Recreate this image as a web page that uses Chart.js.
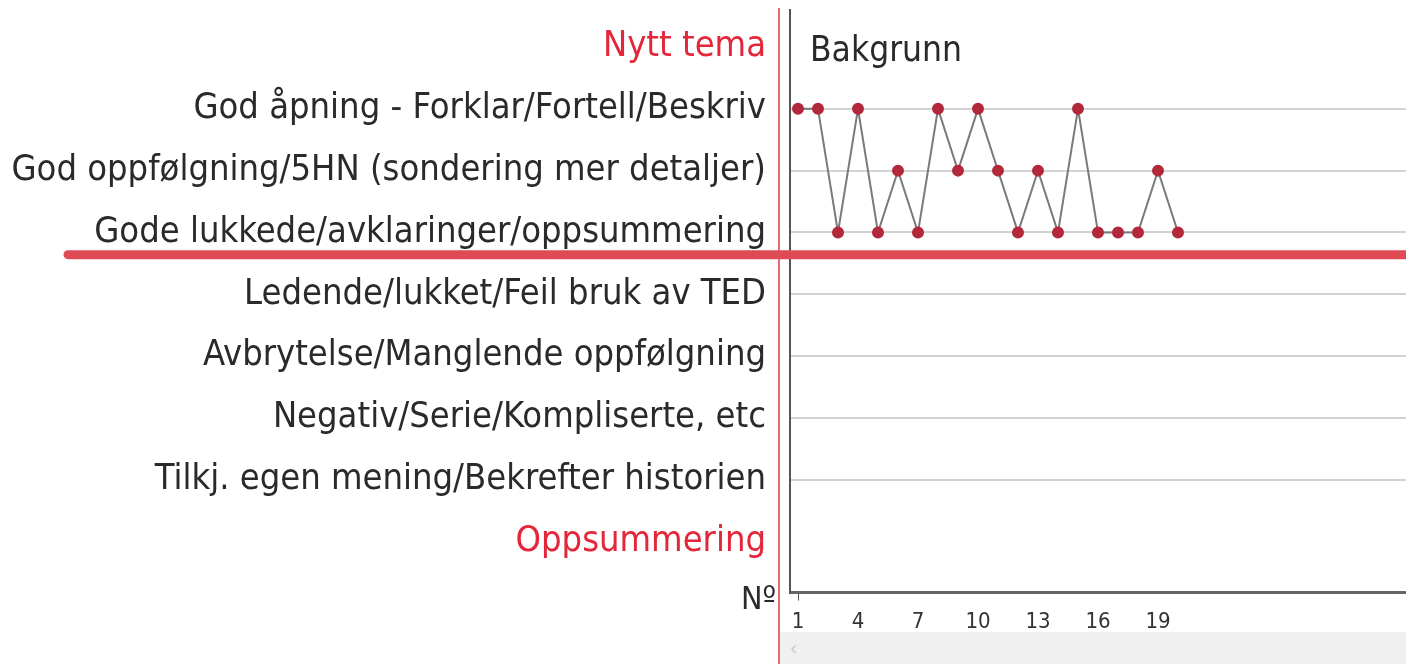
<!DOCTYPE html>
<html>
<head>
<meta charset="utf-8">
<script src="https://cdn.jsdelivr.net/npm/chart.js@4.4.0/dist/chart.umd.min.js"></script>
<style>
  html, body { margin: 0; padding: 0; background: #fff; overflow: hidden; }
  #wrap { position: relative; width: 1406px; height: 664px; }
</style>
</head>
<body>
<div id="wrap"><canvas id="chart"></canvas></div>
<script>
// rows of the scale, top to bottom
const rowLabels = [
  'Nytt tema',
  'God åpning - Forklar/Fortell/Beskriv',
  'God oppfølgning/5HN (sondering mer detaljer)',
  'Gode lukkede/avklaringer/oppsummering',
  'Ledende/lukket/Feil bruk av TED',
  'Avbrytelse/Manglende oppfølgning',
  'Negativ/Serie/Kompliserte, etc',
  'Tilkj. egen mening/Bekrefter historien',
  'Oppsummering'
];
// question number and which row it was scored in
const questionNo  = [1, 2, 3, 4, 5, 6, 7, 8, 9, 10, 11, 12, 13, 14, 15, 16, 17, 18, 19, 20];
const questionRow = [1, 1, 3, 1, 3, 2, 3, 1, 2, 1, 2, 3, 2, 3, 1, 3, 3, 3, 2, 3];
const xTickValues = [1, 4, 7, 10, 13, 16, 19];
const sectionTitle = 'Bakgrunn';
const xAxisTitle = 'Nº';

const RED = '#e3263a';
const DARK = '#2a2a2a';
const FONT = "'DejaVu Sans Condensed', 'Liberation Sans', sans-serif";

const points = questionNo.map((n, i) => ({ x: n, y: questionRow[i] }));

const decor = {
  id: 'decor',
  beforeDraw(chart) {
    const { ctx, chartArea, width, height } = chart;
    ctx.save();
    // scrollbar strip at the bottom
    ctx.fillStyle = '#f0f0f0';
    ctx.fillRect(chartArea.left - 10, height - 32, width, 32);
    ctx.fillStyle = '#c8c8c8';
    ctx.font = '20px ' + FONT;
    ctx.textBaseline = 'middle';
    ctx.fillText('‹', chartArea.left, height - 14);
    // thin red divider between labels and plot
    ctx.strokeStyle = '#e86a74';
    ctx.lineWidth = 2;
    ctx.beginPath();
    ctx.moveTo(chartArea.left - 11, 8);
    ctx.lineTo(chartArea.left - 11, height);
    ctx.stroke();
    ctx.restore();
  },
  afterDraw(chart) {
    const { ctx, chartArea, scales } = chart;
    ctx.save();
    // thick red line under the "good" rows
    const yLine = scales.y.getPixelForValue(3.36);
    ctx.strokeStyle = '#df4b55';
    ctx.lineWidth = 9;
    ctx.lineCap = 'round';
    ctx.beginPath();
    ctx.moveTo(68, yLine);
    ctx.lineTo(chart.width + 10, yLine);
    ctx.stroke();
    // section title in the "Nytt tema" row
    ctx.fillStyle = DARK;
    ctx.font = '35px ' + FONT;
    ctx.textBaseline = 'middle';
    ctx.textAlign = 'left';
    ctx.fillText(sectionTitle, chartArea.left + 20, scales.y.getPixelForValue(0) + 5);
    // Nº at the left end of the x axis
    ctx.textAlign = 'right';
    ctx.font = '32px ' + FONT;
    ctx.fillText(xAxisTitle, chartArea.left - 14, chartArea.bottom + 8);
    ctx.restore();
  }
};

new Chart(document.getElementById('chart'), {
  type: 'line',
  data: {
    datasets: [{
      data: points,
      borderColor: '#7b7b7b',
      borderWidth: 2,
      pointBackgroundColor: '#b3283b',
      pointBorderColor: '#b3283b',
      pointRadius: 5,
      tension: 0
    }]
  },
  options: {
    responsive: true,
    maintainAspectRatio: false,
    animation: false,
    layout: { autoPadding: false, padding: { top: 10, bottom: 21, left: 0, right: 0 } },
    plugins: { legend: { display: false }, tooltip: { enabled: false } },
    scales: {
      x: {
        type: 'linear',
        min: 0.6,
        max: 31.4,
        afterBuildTicks: s => { s.ticks = xTickValues.map(v => ({ value: v })); },
        afterFit: s => { s.paddingLeft = 0; s.paddingRight = 0; },
        ticks: {
          autoSkip: false,
          maxRotation: 0,
          padding: 8,
          color: '#333',
          font: { family: FONT, size: 22 },
          callback: v => String(v)
        },
        grid: {
          drawOnChartArea: false,
          tickLength: 8,
          color: c => (c.tick && c.tick.value === 1) ? '#555' : 'rgba(0,0,0,0)'
        },
        border: { color: '#666', width: 3 }
      },
      y: {
        type: 'linear',
        reverse: true,
        min: -0.6,
        max: 8.83,
        afterBuildTicks: s => { s.ticks = rowLabels.map((_, i) => ({ value: i })); },
        afterFit: s => { s.width = 790; s.paddingTop = 0; s.paddingBottom = 0; },
        ticks: {
          autoSkip: false,
          padding: 24,
          font: { family: FONT, size: 36 },
          color: c => (c.index === 0 || c.index === rowLabels.length - 1) ? RED : DARK,
          callback: v => rowLabels[v]
        },
        grid: {
          drawTicks: false,
          lineWidth: 2,
          color: c => (c.tick && c.tick.value > 0 && c.tick.value < rowLabels.length - 1) ? '#d2d2d2' : 'rgba(0,0,0,0)'
        },
        border: { color: '#555', width: 2 }
      }
    }
  },
  plugins: [decor]
});
</script>
</body>
</html>
